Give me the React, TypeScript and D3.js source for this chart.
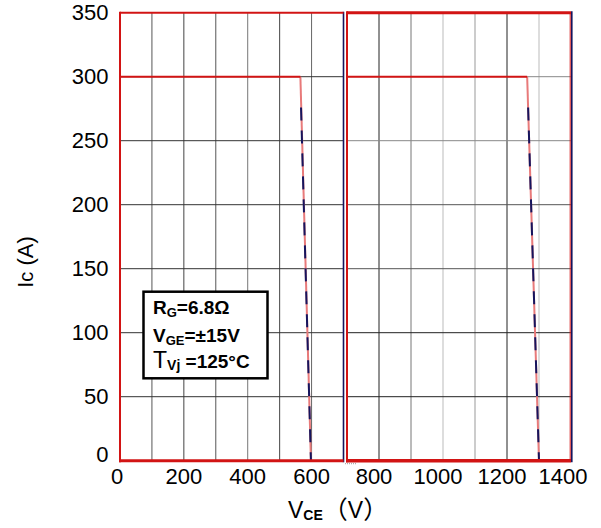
import React from "react";
import * as d3 from "d3";

// ---- data ----
const yTicks = [0, 50, 100, 150, 200, 250, 300, 350];
const yGrid = [50, 100, 150, 200, 250, 300];
const leftDomain = [0, 700];
const rightDomain = [700, 1400];
const leftTicks = [0, 200, 400, 600];
const rightTicks = [800, 1000, 1200, 1400];
const leftGrid = [100, 200, 300, 400, 500, 600];
const rightGrid = [800, 900, 1000, 1100, 1200, 1300];
// RBSOA curves [V_CE, I_C]
const rbsoaLeft: [number, number][] = [[0, 300], [565, 300], [598, 0]];
const rbsoaRight: [number, number][] = [[700, 300], [1263, 300], [1300, 0]];
const measuredLeft: [number, number][] = [[567, 276], [598, 0]];
const measuredRight: [number, number][] = [[1266, 276], [1300, 0]];

// ---- styles ----
const FONT = "'Liberation Sans', Arial, Helvetica, sans-serif";
const CJK = "'Noto Sans CJK SC', sans-serif";
const RED = "#d21414";
const PINK = "#e87a7a";
const NAVY = "#15155e";
const leftGridColors = ["#555", "#444", "#555", "#777", "#444", "#666"];
const rightGridColors = ["#222", "#777", "#bbb", "#999", "#222", "#bbb"];
const leftHGridColors = ["#333", "#333", "#333", "#333", "#333", "#333"];
const rightHGridColors = ["#222", "#222", "#555", "#555", "#888", "#888"];

export default function App() {
  const W = 601, H = 528;
  const top = 12.7, bottom = 460.7;
  const y = d3.scaleLinear().domain([0, 350]).range([bottom, top]);
  const xl = d3.scaleLinear().domain(leftDomain).range([120, 343.5]);
  const xr = d3.scaleLinear().domain(rightDomain).range([347, 571]);

  const lineL = d3.line<[number, number]>().x(d => xl(d[0])).y(d => y(d[1]));
  const lineR = d3.line<[number, number]>().x(d => xr(d[0])).y(d => y(d[1]));

  const horizL = lineL(rbsoaLeft.slice(0, 2));
  const slopeL = lineL(rbsoaLeft.slice(1));
  const horizR = lineR(rbsoaRight.slice(0, 2));
  const slopeR = lineR(rbsoaRight.slice(1));

  return (
    <svg width={W} height={H} style={{ position: "absolute", left: 0, top: 0, background: "#fff" }} fontFamily={FONT}>
      <rect x={0} y={0} width={W} height={H} fill="#fff" />
      {/* grid left */}
      {leftGrid.map((v, i) => (
        <line key={"lg" + v} x1={xl(v)} x2={xl(v)} y1={top} y2={bottom} stroke={leftGridColors[i]} strokeWidth={1} />
      ))}
      {yGrid.map((v, i) => (
        <line key={"lh" + v} x1={xl(leftDomain[0])} x2={xl(leftDomain[1])} y1={y(v)} y2={y(v)} stroke={leftHGridColors[i]} strokeWidth={1} />
      ))}
      {/* grid right */}
      {rightGrid.map((v, i) => (
        <line key={"rg" + v} x1={xr(v)} x2={xr(v)} y1={top} y2={bottom} stroke={rightGridColors[i]} strokeWidth={1} />
      ))}
      {yGrid.map((v, i) => (
        <line key={"rh" + v} x1={xr(rightDomain[0])} x2={xr(rightDomain[1])} y1={y(v)} y2={y(v)} stroke={rightHGridColors[i]} strokeWidth={1} />
      ))}

      {/* curves */}
      <path d={slopeL || ""} fill="none" stroke={PINK} strokeWidth={2} />
      <path d={horizL || ""} fill="none" stroke={RED} strokeWidth={2} />
      <path d={lineL(measuredLeft) || ""} fill="none" stroke={NAVY} strokeWidth={2} strokeDasharray="13 10" />
      <path d={slopeR || ""} fill="none" stroke={PINK} strokeWidth={2} />
      <path d={horizR || ""} fill="none" stroke={RED} strokeWidth={2} />
      <path d={lineR(measuredRight) || ""} fill="none" stroke={NAVY} strokeWidth={2} strokeDasharray="13 10" />

      {/* frames left */}
      <line x1={xl(700)} x2={xl(700)} y1={top - 1} y2={bottom + 1.5} stroke={NAVY} strokeWidth={1.6} />
      <line x1={xl(0)} x2={xl(700)} y1={top} y2={top} stroke={RED} strokeWidth={2} />
      <line x1={xl(0)} x2={xl(0)} y1={top - 1} y2={bottom + 1.5} stroke={RED} strokeWidth={2} />
      <line x1={xl(0) - 1} x2={xl(700)} y1={bottom} y2={bottom} stroke={RED} strokeWidth={3} />
      {/* frames right */}
      <line x1={xr(1400) + 0.8} x2={xr(1400) + 0.8} y1={top - 1.5} y2={bottom + 1.5} stroke={NAVY} strokeWidth={1.6} />
      <line x1={xr(1400) - 0.8} x2={xr(1400) - 0.8} y1={top} y2={bottom} stroke={RED} strokeWidth={1} />
      <line x1={xr(700)} x2={xr(1400)} y1={top} y2={top} stroke={RED} strokeWidth={3} />
      <line x1={xr(700)} x2={xr(700)} y1={top - 1.5} y2={bottom + 1.5} stroke={RED} strokeWidth={2} />
      <line x1={xr(700) - 1} x2={xr(1400)} y1={bottom} y2={bottom} stroke={RED} strokeWidth={3.5} />
      <line x1={xr(700) - 2} x2={xr(700) + 10} y1={bottom + 3} y2={bottom + 3} stroke="#999" strokeWidth={1} strokeDasharray="1 1" />

      {/* y tick labels */}
      {yTicks.map(v => (
        <text key={"yt" + v} x={108.5} y={y(v) + (v === 0 ? -6 : 0)} textAnchor="end" dominantBaseline="central" fontSize={22} fill="#000">{v}</text>
      ))}
      {/* x tick labels */}
      {leftTicks.map(v => (
        <text key={"xl" + v} x={xl(v) + (v === 0 ? -3 : 0)} y={483.5} textAnchor="middle" fontSize={22} fill="#000">{v}</text>
      ))}
      {rightTicks.map(v => (
        <text key={"xr" + v} x={xr(v) - (v === 1400 ? 8 : 5)} y={483.5} textAnchor="middle" fontSize={22} fill="#000">{v}</text>
      ))}

      {/* axis titles */}
      <text transform="translate(33,262) rotate(-90)" textAnchor="middle" fontSize={22} fill="#000">
        I<tspan fontSize={20}>c</tspan> (A)
      </text>
      <text x={288} y={518} fontSize={23} fill="#000">
        V<tspan fontSize={14} fontWeight="bold" dy={2}>CE</tspan>
        <tspan fontFamily={CJK} fontSize={25} dy={-1}>（</tspan>
        <tspan dy={-1}>V</tspan>
        <tspan fontFamily={CJK} fontSize={25} dy={1}>）</tspan>
      </text>

      {/* legend */}
      <rect x={143.5} y={291.7} width={124} height={86.6} fill="#fff" stroke="#000" strokeWidth={2.5} />
      <text x={153} y={314} fontSize={19} fontWeight="bold" fill="#000">
        R<tspan fontSize={13} dy={3}>G</tspan><tspan dy={-3}>=6.8Ω</tspan>
      </text>
      <text x={153} y={341.5} fontSize={19} fontWeight="bold" fill="#000">
        V<tspan fontSize={13} dy={3}>GE</tspan><tspan dy={-3}>=±15V</tspan>
      </text>
      <text x={153} y={368} fontSize={19} fontWeight="bold" fill="#000">
        <tspan fontWeight="normal" fontSize={23}>T</tspan><tspan fontSize={14} dy={2}>Vj</tspan><tspan dy={-2}> =125°C</tspan>
      </text>
    </svg>
  );
}
